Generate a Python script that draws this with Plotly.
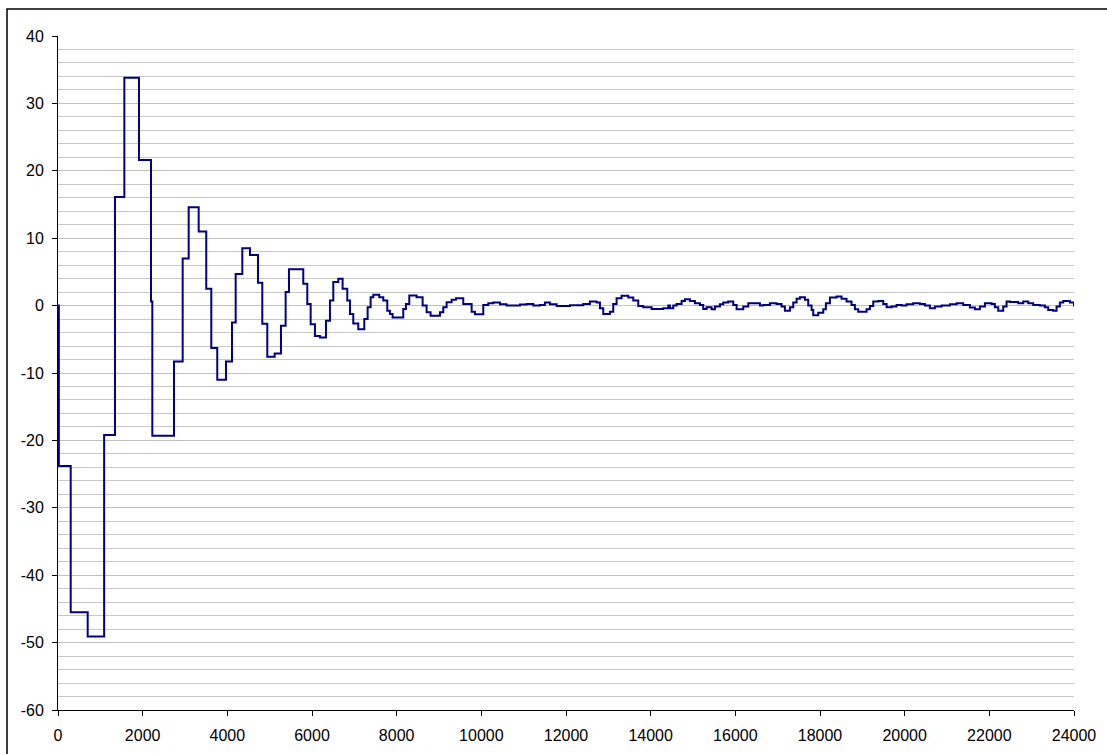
import plotly.graph_objects as go

# Step start positions (x) and values (y)
x_steps = [0, 20, 300, 701, 1090, 1346, 1567, 1913, 2197, 2228, 2740, 2945, 3087, 3323,
           3502, 3621, 3762, 3968, 4110, 4197, 4354, 4535, 4724, 4826, 4944, 5118, 5267,
           5377, 5456, 5794, 5889, 5968, 6070, 6188, 6330, 6424, 6503, 6621, 6723, 6833,
           6897, 6975, 7093, 7235, 7314, 7385, 7448, 7589, 7684, 7778, 7841, 7904, 8156,
           8219, 8298, 8471, 8613, 8707, 8801, 9022, 9101, 9180, 9298, 9400, 9573, 9771,
           9849, 10046, 10164, 10282, 10440, 10597, 10912, 11069, 11227, 11384, 11502,
           11620, 11778, 12093, 12408, 12565, 12723, 12802, 12880, 13038, 13116, 13195,
           13313, 13471, 13589, 13707, 13825, 14022, 14297, 14415, 14455, 14534, 14612,
           14731, 14809, 14927, 15045, 15164, 15242, 15321, 15439, 15518, 15636, 15715,
           15833, 15951, 16030, 16187, 16305, 16581, 16659, 16817, 16974, 17092, 17171,
           17289, 17368, 17447, 17525, 17643, 17722, 17801, 17840, 17958, 18077, 18139,
           18234, 18391, 18509, 18627, 18745, 18824, 18903, 19100, 19179, 19258, 19376,
           19494, 19573, 19691, 19809, 19927, 20045, 20202, 20360, 20478, 20596, 20714,
           20872, 21069, 21226, 21383, 21541, 21659, 21777, 21895, 22053, 22131, 22210,
           22328, 22407, 22486, 22682, 22801, 22919, 23037, 23194, 23312, 23391, 23509,
           23588, 23667, 23745, 23903, 24000]
y_steps = [0, -23.8, -45.5, -49.1, -19.2, 16.1, 33.8, 21.6, 0.6, -19.3, -8.3, 7.0, 14.6, 11.0,
           2.5, -6.3, -11.0, -8.3, -2.5, 4.7, 8.5, 7.5, 3.4, -2.7, -7.6, -7.1, -3.0,
           2.0, 5.4, 3.25, 0.25, -2.75, -4.5, -4.75, -2.25, 0.75, 3.5, 4.0, 2.5, 0.75,
           -1.25, -2.65, -3.5, -2.0, -0.25, 1.25, 1.6, 1.25, 0.75, -0.75, -1.25, -1.75, -0.5,
           0.25, 1.5, 1.25, 0.0, -1.0, -1.5, -1.0, -0.25, 0.5, 0.85, 1.1, 0.25, -0.9,
           -1.3, 0.1, 0.35, 0.45, 0.2, 0.0, 0.15, 0.25, 0.0, 0.1, 0.45,
           0.2, -0.05, 0.05, 0.25, 0.6, 0.45, -0.4, -1.25, -0.9, 0.25, 1.1,
           1.45, 1.2, 0.75, -0.05, -0.25, -0.5, -0.4, 0.0, -0.4, 0.0, 0.25,
           0.7, 0.95, 0.7, 0.35, 0.1, -0.5, -0.25, -0.55, -0.15, 0.2, 0.45,
           0.6, 0.1, -0.55, -0.15, 0.35, 0.0, 0.1, 0.35, 0.25, -0.15, -0.75,
           -0.25, 0.45, 1.0, 1.25, 0.85, 0.0, -0.65, -1.45, -1.05, -0.55, 0.35,
           1.2, 1.35, 1.0, 0.6, 0.1, -0.55, -0.9, -0.55, -0.05, 0.6, 0.7,
           0.25, -0.25, -0.15, 0.1, 0.0, 0.2, 0.35, 0.25, 0.0, -0.4, -0.15,
           0.0, 0.2, 0.35, 0.1, -0.3, -0.55, -0.15, 0.35, 0.25, -0.25, -0.75,
           -0.15, 0.6, 0.55, 0.35, 0.6, 0.35, 0.1, 0.0, -0.25, -0.65, -0.75,
           -0.15, 0.45, 0.7, 0.45, -0.15]

x_tickvals = [0, 2000, 4000, 6000, 8000, 10000, 12000, 14000, 16000, 18000, 20000, 22000, 24000]
x_ticktext = ["0", "2000", "4000", "6000", "8000", "10000", "12000", "14000", "16000",
              "18000", "20000", "22000", "24000"]
y_tickvals = [40, 30, 20, 10, 0, -10, -20, -30, -40, -50, -60]
y_ticktext = ["40", "30", "20", "10", "0", "-10", "-20", "-30", "-40", "-50", "-60"]

fig = go.Figure()
fig.add_trace(go.Scatter(
    x=x_steps, y=y_steps, mode="lines", line_shape="hv",
    line=dict(color="#000080", width=2), showlegend=False, hoverinfo="skip"))

font = dict(family="Liberation Sans, Arial, sans-serif", size=16, color="black")

fig.update_layout(
    width=1107, height=754,
    margin=dict(l=58, r=33, t=36, b=44),
    paper_bgcolor="white", plot_bgcolor="white",
    font=font,
    xaxis=dict(range=[0, 24000], tickvals=x_tickvals, ticktext=x_ticktext,
               showgrid=False, zeroline=False, showline=True, linecolor="black",
               linewidth=1, ticks="outside", ticklen=5, tickcolor="black",
               tickfont=font, ticklabelstandoff=6, automargin=False),
    yaxis=dict(range=[-60, 40], tickvals=y_tickvals, ticktext=y_ticktext,
               showgrid=True, gridcolor="#c0c0c0", gridwidth=1,
               minor=dict(dtick=2, showgrid=True, gridcolor="#c8c8c8", gridwidth=1, ticks=""),
               zeroline=False, showline=True, linecolor="black", linewidth=1,
               ticks="outside", ticklen=5, tickcolor="black", tickfont=font,
               ticklabelstandoff=5, automargin=False),
    shapes=[dict(type="rect", xref="paper", yref="paper",
                 x0=(7 - 58) / 1016, x1=1.2, y0=-0.2, y1=(710 - 9) / 674,
                 line=dict(color="black", width=1.5), fillcolor="rgba(0,0,0,0)",
                 layer="below")],
)

fig.write_html("out.html", config={"displayModeBar": False})
